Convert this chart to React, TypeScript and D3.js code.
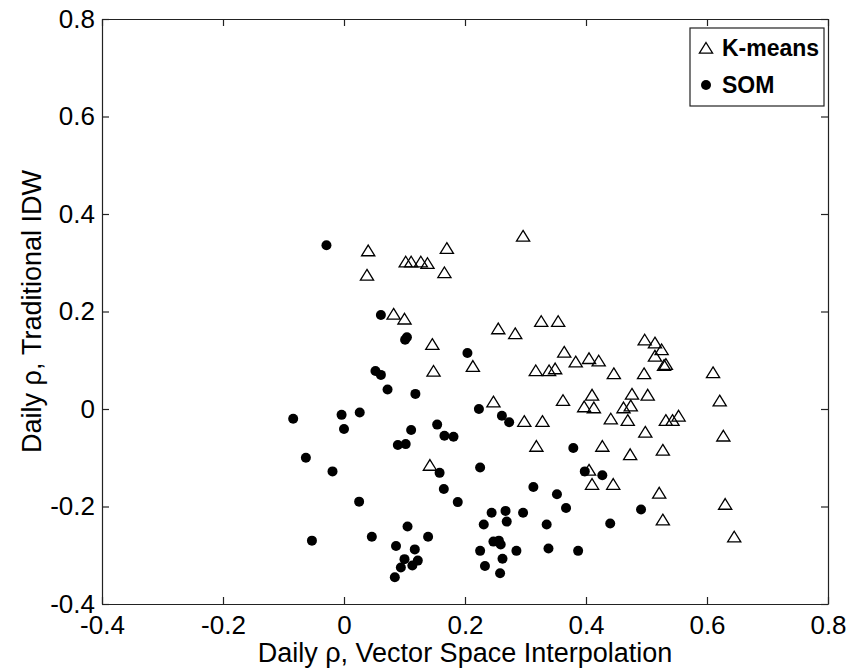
import { useEffect, useRef } from "react";
import * as d3 from "d3";

// K-means points (x: vector space interpolation, y: traditional IDW)
const kmX = [0.04, 0.17, 0.102, 0.111, 0.127, 0.138, 0.038, 0.166, 0.296, 0.082, 0.1, 0.146, 0.213, 0.148,
  0.255, 0.283, 0.326, 0.354, 0.497, 0.514, 0.525, 0.514, 0.529, 0.532, 0.364, 0.383, 0.405, 0.421,
  0.317, 0.339, 0.349, 0.446, 0.496, 0.247, 0.298, 0.328, 0.362, 0.41, 0.397, 0.413, 0.476, 0.502,
  0.462, 0.474, 0.441, 0.469, 0.532, 0.543, 0.553, 0.498, 0.318, 0.427, 0.473, 0.527, 0.405, 0.41,
  0.445, 0.521, 0.527, 0.61, 0.621, 0.627, 0.63, 0.645, 0.142];
const kmY = [0.325, 0.33, 0.302, 0.302, 0.302, 0.299, 0.275, 0.28, 0.355, 0.195, 0.185, 0.133, 0.088, 0.078,
  0.165, 0.155, 0.18, 0.18, 0.142, 0.136, 0.122, 0.109, 0.09, 0.092, 0.117, 0.097, 0.104, 0.099,
  0.079, 0.079, 0.083, 0.073, 0.073, 0.015, -0.025, -0.025, 0.018, 0.029, 0.005, 0.003, 0.031, 0.029,
  0.003, 0.007, -0.02, -0.023, -0.023, -0.023, -0.014, -0.047, -0.076, -0.076, -0.093, -0.084, -0.125, -0.154,
  -0.154, -0.172, -0.227, 0.075, 0.017, -0.055, -0.195, -0.262, -0.115];

// SOM points
const somX = [-0.029, 0.061, 0.101, 0.104, 0.204, 0.052, 0.061, 0.072, 0.118, 0.223, -0.084, -0.004, 0.026,
  0.0, 0.111, 0.154, 0.166, 0.181, 0.261, 0.273, 0.379, 0.398, 0.427, 0.491, 0.44, 0.313, 0.352, 0.367,
  0.225, 0.158, 0.165, 0.188, 0.244, 0.267, 0.296, 0.231, 0.269, 0.335, 0.247, 0.256, 0.259, 0.225,
  0.285, 0.338, 0.387, 0.262, 0.233, 0.258, 0.089, 0.102, -0.063, -0.019, 0.025, 0.105, 0.046, 0.139,
  -0.053, 0.086, 0.117, 0.1, 0.122, 0.094, 0.113, 0.084];
const somY = [0.336, 0.193, 0.142, 0.147, 0.115, 0.078, 0.07, 0.04, 0.031, 0.0, -0.02, -0.012, -0.007,
  -0.041, -0.043, -0.032, -0.055, -0.057, -0.014, -0.027, -0.08, -0.128, -0.136, -0.206, -0.235, -0.16, -0.175, -0.203,
  -0.12, -0.131, -0.164, -0.191, -0.213, -0.209, -0.213, -0.237, -0.231, -0.237, -0.272, -0.27, -0.278, -0.291,
  -0.291, -0.286, -0.291, -0.307, -0.322, -0.337, -0.074, -0.072, -0.1, -0.128, -0.19, -0.241, -0.262, -0.262,
  -0.27, -0.281, -0.288, -0.308, -0.311, -0.325, -0.321, -0.345];

const xTicks = [-0.4, -0.2, 0, 0.2, 0.4, 0.6, 0.8];
const yTicks = [-0.4, -0.2, 0, 0.2, 0.4, 0.6, 0.8];
const seriesNames = ["K-means", "SOM"];

const App = () => {
  const ref = useRef<SVGSVGElement>(null);

  useEffect(() => {
    const width = 851;
    const height = 672;
    const margin = { top: 19, right: 23, bottom: 68, left: 102 };
    const font = "'Liberation Sans', Arial, Helvetica, sans-serif";

    const svg = d3.select(ref.current)
      .attr("width", width)
      .attr("height", height);
    svg.selectAll("*").remove();

    svg.append("rect").attr("width", width).attr("height", height).attr("fill", "#fff");

    const x = d3.scaleLinear().domain([-0.4, 0.8]).range([margin.left, width - margin.right]);
    const y = d3.scaleLinear().domain([-0.4, 0.8]).range([height - margin.bottom, margin.top]);

    const fmt = (d: number) => (d === 0 ? "0" : d3.format(".1f")(d).replace("−", "-"));
    const tickLen = 7;

    // axes: bottom/left with labels, top/right ticks only (box on)
    const bottom = svg.append("g")
      .attr("transform", `translate(0,${y(-0.4)})`)
      .call(d3.axisBottom(x).tickValues(xTicks).tickSizeInner(-tickLen).tickSizeOuter(0).tickPadding(12).tickFormat(d => fmt(+d)));
    const left = svg.append("g")
      .attr("transform", `translate(${x(-0.4)},0)`)
      .call(d3.axisLeft(y).tickValues(yTicks).tickSizeInner(-tickLen).tickSizeOuter(0).tickPadding(7).tickFormat(d => fmt(+d)));
    const top = svg.append("g")
      .attr("transform", `translate(0,${y(0.8)})`)
      .call(d3.axisTop(x).tickValues(xTicks).tickSizeInner(-tickLen).tickSizeOuter(0).tickFormat(() => ""));
    const right = svg.append("g")
      .attr("transform", `translate(${x(0.8)},0)`)
      .call(d3.axisRight(y).tickValues(yTicks).tickSizeInner(-tickLen).tickSizeOuter(0).tickFormat(() => ""));

    [bottom, left, top, right].forEach(g => {
      g.select(".domain").attr("stroke", "#222").attr("stroke-width", 1.2);
      g.selectAll(".tick line").attr("stroke", "#222").attr("stroke-width", 1.2);
      g.selectAll("text")
        .attr("fill", "#000")
        .style("font-family", font)
        .style("font-size", "26px");
    });
    bottom.selectAll(".tick text").attr("dy", "0.71em");

    // K-means: open triangles
    const tri = "M0,-5.5L6.6,5.2L-6.6,5.2Z";
    svg.append("g")
      .selectAll("path")
      .data(kmX.map((v, i) => [v, kmY[i]]))
      .join("path")
      .attr("d", tri)
      .attr("transform", d => `translate(${x(d[0])},${y(d[1])})`)
      .attr("fill", "none")
      .attr("stroke", "#000")
      .attr("stroke-width", 1.3);

    // SOM: filled dots
    svg.append("g")
      .selectAll("circle")
      .data(somX.map((v, i) => [v, somY[i]]))
      .join("circle")
      .attr("cx", d => x(d[0]))
      .attr("cy", d => y(d[1]))
      .attr("r", 5)
      .attr("fill", "#000");

    // legend
    const lg = svg.append("g");
    lg.append("rect")
      .attr("x", 690).attr("y", 28)
      .attr("width", 134).attr("height", 78)
      .attr("fill", "#fff")
      .attr("stroke", "#222")
      .attr("stroke-width", 1.2);
    lg.append("path")
      .attr("d", tri)
      .attr("transform", "translate(706,48)")
      .attr("fill", "none").attr("stroke", "#000").attr("stroke-width", 1.3);
    lg.append("circle").attr("cx", 706).attr("cy", 85).attr("r", 5).attr("fill", "#000");
    seriesNames.forEach((name, i) => {
      lg.append("text")
        .attr("x", 722)
        .attr("y", i === 0 ? 56 : 93)
        .style("font-family", font)
        .style("font-size", "23px")
        .style("font-weight", "bold")
        .text(name);
    });

    // axis titles
    svg.append("text")
      .attr("x", (x(-0.4) + x(0.8)) / 2)
      .attr("y", 662)
      .attr("text-anchor", "middle")
      .style("font-family", font)
      .style("font-size", "27px")
      .text("Daily ρ, Vector Space Interpolation");

    svg.append("text")
      .attr("transform", `translate(41,${(y(-0.4) + y(0.8)) / 2}) rotate(-90)`)
      .attr("text-anchor", "middle")
      .style("font-family", font)
      .style("font-size", "27px")
      .text("Daily ρ, Traditional IDW");
  }, []);

  return <svg ref={ref} style={{ position: "absolute", left: 0, top: 0 }} />;
};

export default App;
